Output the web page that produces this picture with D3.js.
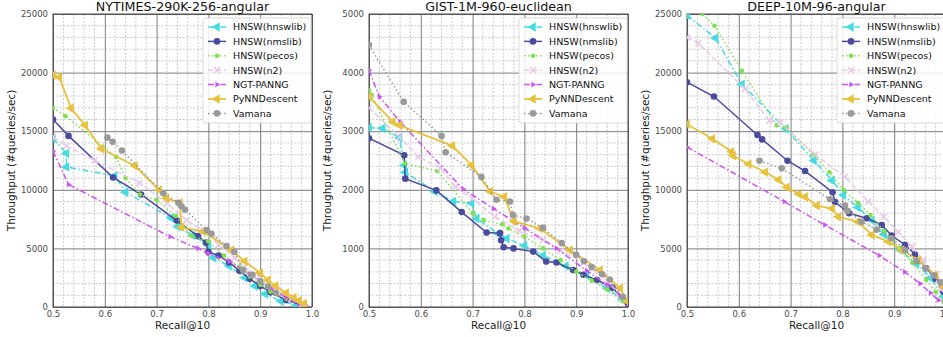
<!DOCTYPE html>
<html>
<head>
<meta charset="utf-8">
<script src="https://cdn.jsdelivr.net/npm/d3@7"></script>
<style>
  body { margin: 0; background: #fff; }
  svg { display: block; font-family: "DejaVu Sans", sans-serif; }
</style>
</head>
<body>
<script>
// recall@10 vs queries/sec
const names = ["HNSW(hnswlib)", "HNSW(nmslib)", "HNSW(pecos)", "HNSW(n2)", "NGT-PANNG", "PyNNDescent", "Vamana"];

// NYTIMES-290K-256-angular
const nytHnswlib = [[0.50,14400],[0.526,13100],[0.526,11950],[0.619,11200],[0.64,9800],[0.728,7600],[0.741,6850],[0.77,6100],[0.80,5300],[0.81,4200],[0.84,3500],[0.87,2500],[0.89,1800],[0.91,1100],[0.94,500],[0.97,150]];
const nytNmslib = [[0.50,16000],[0.53,14600],[0.616,11050],[0.67,9600],[0.739,7370],[0.78,6050],[0.795,5500],[0.80,4700],[0.82,4400],[0.84,3800],[0.86,3100],[0.88,2400],[0.90,1800],[0.92,1250],[0.95,600],[0.985,80]];
const nytPecos = [[0.50,17000],[0.524,16300],[0.622,12800],[0.64,11000],[0.668,9600],[0.70,9130],[0.737,7760],[0.767,6080],[0.80,5600],[0.83,4400],[0.86,3400],[0.88,2600],[0.90,1900],[0.92,1300],[0.95,700],[0.98,100]];
const nytN2 = [[0.50,14500],[0.526,13750],[0.58,12500],[0.667,10600],[0.72,8850],[0.758,7400],[0.79,6500],[0.82,5300],[0.85,4200],[0.87,3400],[0.90,2500],[0.93,1500],[0.96,700],[0.98,200]];
const nytNgt = [[0.50,13300],[0.53,10450],[0.726,6000],[0.78,5000],[0.80,4550],[0.84,3900],[0.88,2800],[0.92,1600],[0.95,800],[0.975,250],[0.99,30]];
const nytPynn = [[0.50,19800],[0.512,19600],[0.535,16950],[0.562,15500],[0.593,13500],[0.658,12050],[0.705,9980],[0.719,9270],[0.745,8900],[0.748,6800],[0.79,6450],[0.845,4850],[0.87,3900],[0.90,2900],[0.915,2300],[0.93,1800],[0.95,1200],[0.965,800],[0.975,550],[0.985,300]];
const nytVamana = [[0.605,14450],[0.615,14100],[0.633,13350],[0.713,9700],[0.742,8900],[0.748,8600],[0.755,8300],[0.797,6550],[0.806,6250],[0.835,5200],[0.85,4700],[0.867,3150],[0.885,2750],[0.90,2200],[0.915,1750],[0.93,1200]];

// GIST-1M-960-euclidean
const gistHnswlib = [[0.50,3060],[0.526,3050],[0.559,2890],[0.568,2420],[0.57,2300],[0.627,1970],[0.663,1800],[0.698,1770],[0.708,1510],[0.75,1250],[0.766,1170],[0.80,1050],[0.836,880],[0.88,700],[0.92,540],[0.96,320],[0.99,120]];
const gistNmslib = [[0.50,2880],[0.568,2590],[0.57,2190],[0.63,1990],[0.679,1620],[0.727,1270],[0.753,1260],[0.755,1140],[0.76,1020],[0.779,1000],[0.817,945],[0.842,775],[0.862,760],[0.894,630],[0.914,550],[0.94,460],[0.97,330],[1.0,50]];
const gistPecos = [[0.50,3700],[0.505,3620],[0.569,2450],[0.632,2320],[0.70,1600],[0.722,1480],[0.757,1410],[0.769,1340],[0.80,1200],[0.836,1000],[0.87,800],[0.90,600],[0.93,450],[0.96,300],[0.99,100]];
const gistN2 = [[0.50,3400],[0.559,2900],[0.595,2560],[0.638,2370],[0.667,2050],[0.70,1850],[0.743,1540],[0.79,1300],[0.836,1140],[0.87,960],[0.915,760],[0.96,450],[0.99,150]];
const gistNgt = [[0.50,4040],[0.52,3590],[0.56,3160],[0.682,2010],[0.74,1680],[0.80,1350],[0.862,1000],[0.92,620],[0.96,380],[0.985,200],[1.0,50]];
const gistPynn = [[0.50,3590],[0.546,3160],[0.559,3100],[0.661,2750],[0.698,2420],[0.734,1970],[0.761,1880],[0.78,1460],[0.83,1340],[0.888,970],[0.946,630],[0.985,320],[1.0,90]];
const gistVamana = [[0.50,4470],[0.567,3500],[0.64,2920],[0.648,2640],[0.717,2220],[0.746,1830],[0.772,1800],[0.778,1570],[0.804,1510],[0.836,1350],[0.872,1090],[0.90,890],[0.915,780],[0.93,680],[0.95,560],[0.965,470],[0.99,170]];

// DEEP-10M-96-angular
const deepHnswlib = [[0.50,24900],[0.555,22950],[0.606,19000],[0.691,15200],[0.745,12500],[0.78,10800],[0.802,9560],[0.83,8500],[0.857,7400],[0.88,6200],[0.91,4900],[0.943,3700],[0.97,2500],[0.995,900]];
const deepNmslib = [[0.50,19180],[0.552,17960],[0.636,14680],[0.645,14300],[0.694,12480],[0.728,11600],[0.781,9790],[0.786,8950],[0.813,8000],[0.847,7570],[0.876,7000],[0.895,6100],[0.921,5300],[0.94,4500],[0.962,3300],[0.98,2400],[0.995,1300]];
const deepPecos = [[0.53,25000],[0.553,24000],[0.606,20150],[0.673,15500],[0.692,15300],[0.744,13000],[0.775,11500],[0.802,10000],[0.83,8900],[0.854,7850],[0.88,6500],[0.91,5000],[0.935,3800],[0.962,2300],[0.98,1300],[0.995,500]];
const deepN2 = [[0.50,23000],[0.522,22500],[0.612,18600],[0.659,15900],[0.68,15750],[0.747,13000],[0.805,11100],[0.85,9000],[0.88,7700],[0.908,6400],[0.934,5150],[0.956,4000],[0.975,2800],[0.99,1500]];
const deepNgt = [[0.50,13650],[0.688,8990],[0.766,7000],[0.871,4400],[0.92,3000],[0.95,2000],[0.97,1200],[0.985,600],[1.0,100]];
const deepPynn = [[0.50,15600],[0.549,14350],[0.586,13250],[0.589,12900],[0.619,12200],[0.651,11500],[0.677,10860],[0.693,10210],[0.716,9640],[0.728,9400],[0.751,8650],[0.78,8400],[0.792,7700],[0.83,7280],[0.857,6150],[0.889,5570],[0.914,4860],[0.947,4000],[0.98,2700],[0.995,1700]];
const deepVamana = [[0.64,12480],[0.683,11830],[0.776,9190],[0.805,8650],[0.81,8200],[0.837,7280],[0.866,6600],[0.895,5860],[0.921,4860],[0.943,3900],[0.96,3300],[0.977,2700],[0.99,2100],[1.0,1500]];

const xTicks = [0.5, 0.6, 0.7, 0.8, 0.9, 1.0];

const panels = [
    { title: "NYTIMES-290K-256-angular", left: 53, yMax: 25000, yStep: 5000,
      series: [nytHnswlib, nytNmslib, nytPecos, nytN2, nytNgt, nytPynn, nytVamana] },
    { title: "GIST-1M-960-euclidean", left: 369, yMax: 5000, yStep: 1000,
      series: [gistHnswlib, gistNmslib, gistPecos, gistN2, gistNgt, gistPynn, gistVamana] },
    { title: "DEEP-10M-96-angular", left: 687, yMax: 25000, yStep: 5000,
      series: [deepHnswlib, deepNmslib, deepPecos, deepN2, deepNgt, deepPynn, deepVamana] }
];

const styles = [
    { color: "#45dbe0", dash: "6,2.5,1.5,2.5", marker: "tri", width: 1.5 },
    { color: "#4a4b9c", dash: null, marker: "circle", width: 1.5 },
    { color: "#7ee24e", dash: "1.5,2.5", marker: "dot", width: 1.5 },
    { color: "#e9c9e9", dash: "5.5,2.5", marker: "times", width: 1.5 },
    { color: "#cc55ee", dash: "6,2.5,1.5,2.5", marker: "small", width: 1.5 },
    { color: "#e6c23e", dash: null, marker: "tri", width: 1.8 },
    { color: "#9a9a9a", dash: "1.5,2.5", marker: "circle", width: 1.5 }
];

const W = 943, H = 337;
const plotW = 259, plotTop = 14, plotBottom = 307;

const svg = d3.select("body").append("svg")
    .attr("width", W)
    .attr("height", H);

function drawMarker(g, st, x, y) {
    if (st.marker === "circle") {
        g.append("circle").attr("cx", x).attr("cy", y).attr("r", 3.3).attr("fill", st.color);
    } else if (st.marker === "dot") {
        g.append("circle").attr("cx", x).attr("cy", y).attr("r", 2.3).attr("fill", st.color);
    } else if (st.marker === "tri") {
        g.append("path")
            .attr("d", d3.symbol(d3.symbolTriangle, 40)())
            .attr("transform", `translate(${x},${y}) rotate(-90)`)
            .attr("fill", st.color);
    } else if (st.marker === "times") {
        g.append("path")
            .attr("d", d3.symbol(d3.symbolTimes, 26)())
            .attr("transform", `translate(${x},${y})`)
            .attr("fill", "none")
            .attr("stroke", st.color)
            .attr("stroke-width", 1.6);
    } else {
        g.append("path")
            .attr("d", d3.symbol(d3.symbolTriangle, 14)())
            .attr("transform", `translate(${x},${y}) rotate(90)`)
            .attr("fill", st.color);
    }
}

panels.forEach((p, pi) => {
    const x = d3.scaleLinear().domain([0.5, 1.0]).range([p.left, p.left + plotW]);
    const y = d3.scaleLinear().domain([0, p.yMax]).range([plotBottom, plotTop]);
    const g = svg.append("g");

    // minor grid
    const xMinor = d3.range(0.5, 1.0001, 0.02).filter(v => Math.abs(v * 10 - Math.round(v * 10)) > 1e-6);
    const yMinor = d3.range(0, p.yMax + 1, p.yStep / 5).filter(v => v % p.yStep !== 0);
    g.selectAll(".xmin").data(xMinor).enter().append("line")
        .attr("x1", d => x(d)).attr("x2", d => x(d)).attr("y1", plotTop).attr("y2", plotBottom)
        .attr("stroke", "#b4b4b4").attr("stroke-width", 0.7).attr("stroke-dasharray", "2,1.5");
    g.selectAll(".ymin").data(yMinor).enter().append("line")
        .attr("x1", p.left).attr("x2", p.left + plotW).attr("y1", d => y(d)).attr("y2", d => y(d))
        .attr("stroke", "#b4b4b4").attr("stroke-width", 0.7).attr("stroke-dasharray", "2,1.5");

    // major grid + tick labels via axes
    const yTicks = d3.range(0, p.yMax + 1, p.yStep);
    const xAxis = d3.axisBottom(x).tickValues(xTicks).tickSize(-(plotBottom - plotTop)).tickPadding(4)
        .tickFormat(d3.format(".1f"));
    const yAxis = d3.axisLeft(y).tickValues(yTicks).tickSize(-plotW).tickPadding(5)
        .tickFormat(d => d);

    const gx = g.append("g").attr("transform", `translate(0,${plotBottom})`).call(xAxis);
    const gy = g.append("g").attr("transform", `translate(${p.left},0)`).call(yAxis);
    [gx, gy].forEach(a => {
        a.select(".domain").remove();
        a.selectAll(".tick line").attr("stroke", "#7c7c7c").attr("stroke-width", 1);
        a.selectAll(".tick text").attr("fill", "#4a4a4a").style("font-size", "8.5px")
            .style("font-family", "DejaVu Sans");
    });

    // frame
    g.append("rect")
        .attr("x", p.left).attr("y", plotTop).attr("width", plotW).attr("height", plotBottom - plotTop)
        .attr("fill", "none").attr("stroke", "#222").attr("stroke-width", 0.8);

    // clip
    svg.append("clipPath").attr("id", "clip" + pi).append("rect")
        .attr("x", p.left).attr("y", plotTop).attr("width", plotW).attr("height", plotBottom - plotTop);

    const data = svg.append("g").attr("clip-path", `url(#clip${pi})`);
    const line = d3.line().x(d => x(d[0])).y(d => y(d[1]));

    p.series.forEach((s, si) => {
        const st = styles[si];
        const sg = data.append("g");
        sg.append("path")
            .attr("d", line(s))
            .attr("fill", "none")
            .attr("stroke", st.color)
            .attr("stroke-width", st.width)
            .attr("stroke-dasharray", st.dash);
        s.forEach(d => drawMarker(sg, st, x(d[0]), y(d[1])));
    });

    // title + axis labels
    svg.append("text")
        .attr("x", p.left + plotW / 2).attr("y", 11)
        .attr("text-anchor", "middle")
        .style("font-size", "12.7px").attr("fill", "#111")
        .text(p.title);
    svg.append("text")
        .attr("x", p.left + plotW / 2).attr("y", 329)
        .attr("text-anchor", "middle")
        .style("font-size", "10.5px").attr("fill", "#222")
        .text("Recall@10");
    svg.append("text")
        .attr("transform", `translate(${p.left - 38},${(plotTop + plotBottom) / 2}) rotate(-90)`)
        .attr("text-anchor", "middle")
        .style("font-size", "10.5px").attr("fill", "#222")
        .text("Throughput (#queries/sec)");

    // legend
    const lx = p.left + plotW - 109, ly = 18;
    const leg = svg.append("g");
    leg.append("rect")
        .attr("x", lx).attr("y", ly).attr("width", 108).attr("height", 105)
        .attr("rx", 2).attr("fill", "#fff").attr("fill-opacity", 0.85)
        .attr("stroke", "#d0d0d0").attr("stroke-width", 0.8);
    names.forEach((n, i) => {
        const st = styles[i];
        const cy = ly + 9 + i * 14.4;
        leg.append("line")
            .attr("x1", lx + 5).attr("x2", lx + 23).attr("y1", cy).attr("y2", cy)
            .attr("stroke", st.color).attr("stroke-width", st.width)
            .attr("stroke-dasharray", st.dash);
        drawMarker(leg, st, lx + 14, cy);
        leg.append("text")
            .attr("x", lx + 30).attr("y", cy + 3.4)
            .style("font-size", "9.5px").attr("fill", "#111")
            .text(n);
    });
});
</script>
</body>
</html>
